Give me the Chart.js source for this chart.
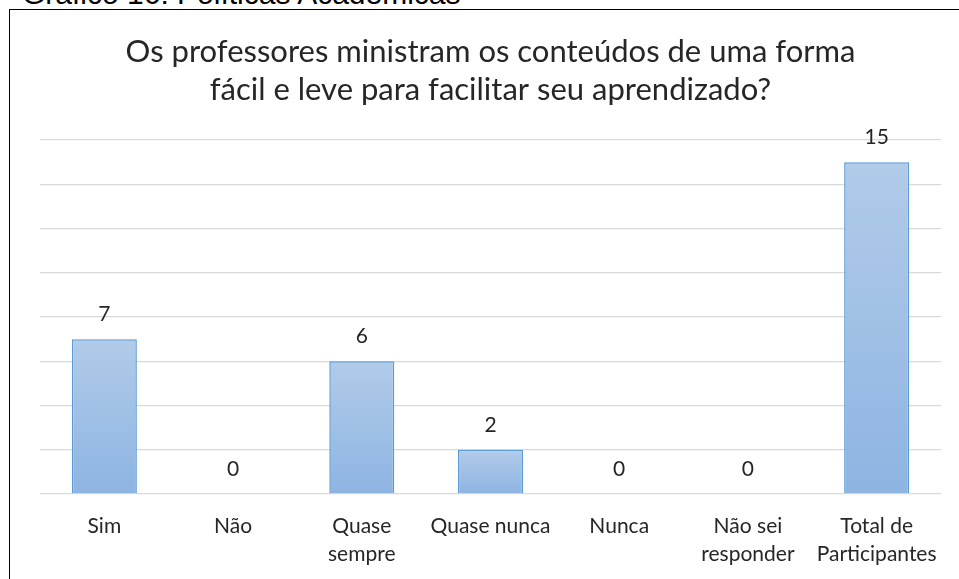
<!DOCTYPE html>
<html>
<head>
<meta charset="utf-8">
<script src="https://cdn.jsdelivr.net/npm/chart.js@4"></script>
<style>
    html, body { margin: 0; padding: 0; background: #fff; overflow: hidden; }
    body { width: 959px; height: 579px; position: relative; }
    #caption {
        position: absolute; left: 22px; top: -23px;
        font-family: 'Liberation Sans', Arial, sans-serif; font-size: 30px; color: #000;
        white-space: nowrap;
    }
    #frame {
        position: absolute; left: 9px; top: 9px; width: 980px; height: 620px;
        border-left: 1.5px solid #000; border-top: 1.5px solid #000;
    }
    #wrap { position: absolute; left: 0; top: 0; width: 961px; height: 588px; }
</style>
</head>
<body>
<div id="caption">Gráfico 16: Políticas Acadêmicas</div>
<div id="frame">
    <div id="wrap"><canvas id="chart"></canvas></div>
</div>
<script>
// dados do gráfico
const categorias = ['Sim', 'Não', ['Quase', 'sempre'], 'Quase nunca', 'Nunca', ['Não sei', 'responder'], ['Total de', 'Participantes']];
const valores = [7, 0, 6, 2, 0, 0, 15];
const tituloLinhas = ['Os professores ministram os conteúdos de uma forma', 'fácil e leve para facilitar seu aprendizado?'];

const fonte = 'Lato, "Open Sans", sans-serif';

// rótulos de valor acima das barras
const rotulosPlugin = {
    id: 'rotulos',
    afterDatasetsDraw(chart) {
        const ctx = chart.ctx;
        const meta = chart.getDatasetMeta(0);
        ctx.save();
        ctx.font = '21px ' + fonte;
        ctx.fillStyle = '#262626';
        ctx.textAlign = 'center';
        ctx.textBaseline = 'middle';
        meta.data.forEach((bar, i) => {
            ctx.fillText(String(valores[i]), bar.x, bar.y - 25);
        });
        ctx.restore();
    }
};

// gradiente de cada barra
function corBarra(context) {
    const chart = context.chart;
    if (!chart.chartArea) return '#9fbfe6';
    const y = chart.scales.y;
    const v = context.raw || 0;
    const topo = y.getPixelForValue(v);
    const base = y.getPixelForValue(0);
    if (base - topo < 1) return '#9fbfe6';
    const g = chart.ctx.createLinearGradient(0, topo, 0, base);
    g.addColorStop(0, '#b1cbe9');
    g.addColorStop(1, '#8eb4e2');
    return g;
}

new Chart(document.getElementById('chart'), {
    type: 'bar',
    data: {
        labels: categorias,
        datasets: [{
            data: valores,
            backgroundColor: corBarra,
            borderColor: '#5b9bd5',
            borderWidth: 1.5,
            categoryPercentage: 1,
            barPercentage: 0.505
        }]
    },
    options: {
        responsive: true,
        maintainAspectRatio: false,
        animation: false,
        layout: { padding: { left: 30, right: 30, top: 0, bottom: 12 } },
        plugins: {
            legend: { display: false },
            tooltip: { enabled: false },
            title: {
                display: true,
                text: tituloLinhas,
                color: '#262626',
                font: { family: fonte, size: 31, weight: 'normal', lineHeight: 38 / 31 },
                padding: { top: 23, bottom: 31 }
            }
        },
        scales: {
            x: {
                grid: { display: false, drawTicks: false },
                border: { display: false },
                ticks: {
                    color: '#262626',
                    font: { family: fonte, size: 21, lineHeight: 28 / 21 },
                    padding: 18,
                    maxRotation: 0,
                    autoSkip: false
                }
            },
            y: {
                min: 0,
                max: 16,
                ticks: { display: false, stepSize: 2 },
                border: { display: false },
                grid: { color: '#d9d9d9', lineWidth: 1.3, drawTicks: false }
            }
        }
    },
    plugins: [rotulosPlugin]
});
</script>
</body>
</html>
